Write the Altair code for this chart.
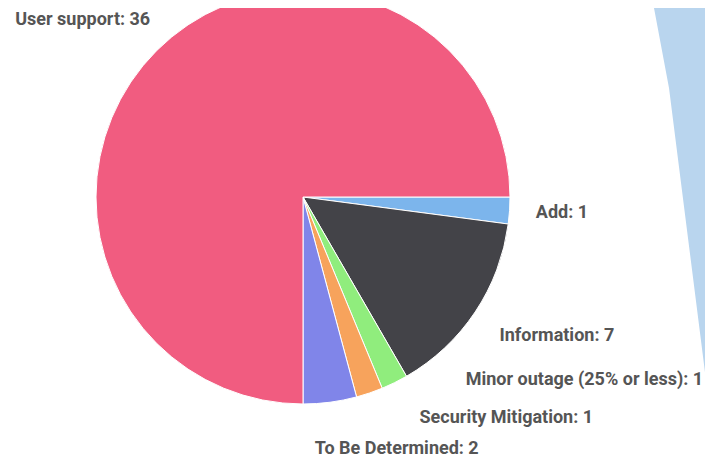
import math
import altair as alt
import pandas as pd

# ---- data ----
categories = ["Add", "Information", "Minor outage (25% or less)", "Security Mitigation",
              "To Be Determined", "User support"]
values = [1, 7, 1, 1, 2, 36]
colors = ["#7cb5ec", "#434348", "#90ed7d", "#f7a35c", "#8085e9", "#f15c80"]

# ---- layout constants (chart coordinates) ----
W, H = 697, 449
CX, CY, R = 295, 189, 207
R_NAT = 250
R_X = 253
SPACING = 38
BOTTOM = 448
MAX_DRAW_Y = 441

# decoration (slide background stripe)
light_y = [0, 80, 380, 449]
light_x = [646, 661, 699, 704]

df = pd.DataFrame({"category": categories, "value": values, "order": list(range(len(values)))})

# ---- label layout computed from the data ----
total = sum(values)
cum = 0
labels = []
for c, v in zip(categories, values):
    mid = math.radians(90 + (cum + v / 2) / total * 360)
    cum += v
    ny = CY - R_NAT * math.cos(mid)
    side = "right" if math.sin(mid) > 0 else "left"
    labels.append({"text": f"{c}: {v}", "y": ny, "side": side})

right = sorted([l for l in labels if l["side"] == "right"], key=lambda l: l["y"])
for i in range(1, len(right)):
    right[i]["y"] = max(right[i]["y"], right[i - 1]["y"] + SPACING)
if right and right[-1]["y"] > BOTTOM:
    right[-1]["y"] = BOTTOM
for i in range(len(right) - 2, -1, -1):
    right[i]["y"] = min(right[i]["y"], right[i + 1]["y"] - SPACING)

for l in labels:
    off = math.sqrt(max(R_X ** 2 - (l["y"] - CY - 8) ** 2, 0)) - 20
    l["x"] = CX + off if l["side"] == "right" else CX - off
    l["y"] = min(l["y"], MAX_DRAW_Y)

lab_df = pd.DataFrame(labels)

light = alt.Chart(pd.DataFrame({"y": light_y, "x": light_x, "x2": [720] * len(light_y)})).mark_area(
    orient="horizontal", color="#b9d5ee"
).encode(
    y=alt.Y("y:Q", scale=None),
    x=alt.X("x:Q", scale=None),
    x2="x2:Q",
)

pie = alt.Chart(df).mark_arc(radius=R, stroke="white", strokeWidth=1).encode(
    theta=alt.Theta("value:Q", stack=True,
                    scale=alt.Scale(range=[math.pi / 2, math.pi / 2 + 2 * math.pi])),
    color=alt.Color("category:N", scale=alt.Scale(domain=categories, range=colors), legend=None),
    order=alt.Order("order:Q"),
    x=alt.value(CX),
    y=alt.value(CY),
)

text_style = dict(font="Roboto", fontSize=18, fontWeight="bold", color="#555555", baseline="middle")
lab_r = alt.Chart(lab_df[lab_df.side == "right"]).mark_text(align="left", **text_style).encode(
    x=alt.X("x:Q", scale=None), y=alt.Y("y:Q", scale=None), text="text:N")
lab_l = alt.Chart(lab_df[lab_df.side == "left"]).mark_text(align="right", **text_style).encode(
    x=alt.X("x:Q", scale=None), y=alt.Y("y:Q", scale=None), text="text:N")

chart = alt.layer(light, pie, lab_r, lab_l).properties(
    width=W, height=H, padding=0, autosize=alt.AutoSizeParams(type="none"),
    background="white"
).configure_view(stroke=None)

chart.save("out.html", embed_options={"renderer": "svg", "actions": False})
